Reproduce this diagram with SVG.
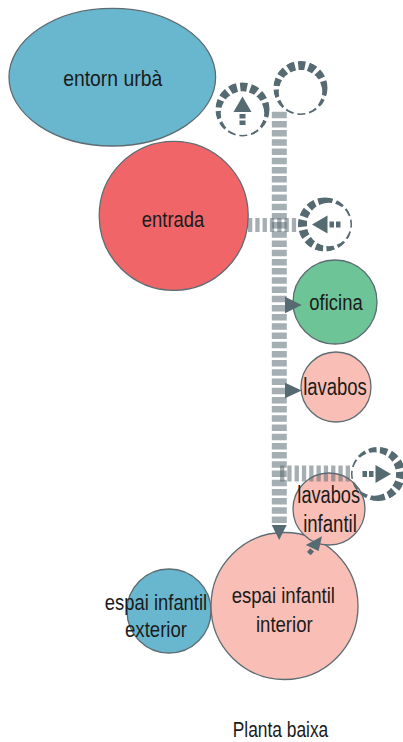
<svg xmlns="http://www.w3.org/2000/svg" width="403" height="742" viewBox="0 0 403 742">
<style>
.node{stroke:#5d6c73;stroke-width:1.3}
.lbl{font-family:"Liberation Sans","DejaVu Sans",sans-serif;font-size:22px;fill:#1b1b1b;text-anchor:middle}
.conn{fill:none;stroke:#5b6b73;stroke-opacity:0.55}
.head{fill:#566a72}
.ring{fill:none;stroke:#566a72;stroke-width:9;stroke-dasharray:7 3.3}
</style>
<defs>
<mask id="ringMask" maskUnits="userSpaceOnUse" x="-32" y="-32" width="64" height="64">
<circle cx="0" cy="0" r="27.5" fill="#fff"/>
<circle cx="0" cy="3.75" r="21.75" fill="#000"/>
</mask>
<g id="portRing"><circle class="ring" cx="0" cy="0" r="22.5" mask="url(#ringMask)"/></g>
<g id="portArrow">
<polygon class="head" points="0,-13 -9,2.5 9,2.5"/>
<rect class="head" x="-3" y="4.5" width="6" height="4.5"/>
<rect class="head" x="-3" y="11" width="6" height="4.5"/>
</g>
</defs>

<g id="entorn-urba">
<ellipse class="node" cx="112.3" cy="77.2" rx="103.3" ry="68.8" fill="#68b7ce"/>
<text class="lbl" x="112.7" y="85.5" textLength="99" lengthAdjust="spacingAndGlyphs">entorn urbà</text>
</g>
<g id="entrada">
<circle class="node" cx="173.7" cy="215.8" r="74.5" fill="#f06568"/>
<text class="lbl" x="173" y="226.7" textLength="62.3" lengthAdjust="spacingAndGlyphs">entrada</text>
</g>
<g id="oficina">
<circle class="node" cx="335" cy="302" r="42" fill="#6dc496"/>
<text class="lbl" x="336" y="310" textLength="53.3" lengthAdjust="spacingAndGlyphs">oficina</text>
</g>
<g id="lavabos">
<circle class="node" cx="336" cy="387" r="35" fill="#f9bfb6"/>
<text class="lbl" x="335" y="395" textLength="63.7" lengthAdjust="spacingAndGlyphs" style="font-size:23px">lavabos</text>
</g>
<g id="espai-infantil-exterior">
<circle class="node" cx="169" cy="611" r="42" fill="#68b7ce"/>
</g>
<g id="espai-infantil-interior">
<circle class="node" cx="284.5" cy="606" r="73.5" fill="#f9bfb6"/>
<text class="lbl" x="283.3" y="603.3" textLength="103.3" lengthAdjust="spacingAndGlyphs">espai infantil</text>
<text class="lbl" x="284.3" y="631.7" textLength="56.7" lengthAdjust="spacingAndGlyphs">interior</text>
</g>
<g id="espai-infantil-exterior-label">
<text class="lbl" x="156" y="610" textLength="102.3" lengthAdjust="spacingAndGlyphs">espai infantil</text>
<text class="lbl" x="156" y="636.7" textLength="62" lengthAdjust="spacingAndGlyphs">exterior</text>
</g>
<g id="lavabos-infantil">
<circle class="node" cx="329" cy="509" r="36" fill="#f9bfb6"/>
<text class="lbl" x="328.7" y="503.3" textLength="62.7" lengthAdjust="spacingAndGlyphs" style="font-size:23px">lavabos</text>
<text class="lbl" x="330" y="531.7" textLength="53.7" lengthAdjust="spacingAndGlyphs" style="font-size:23px">infantil</text>
</g>

<g id="port-1" transform="translate(242.5,109.5)">
<use href="#portRing"/>
<use href="#portArrow"/>
</g>
<g id="port-2" transform="translate(300.5,88)">
<use href="#portRing"/>
</g>
<g id="port-3" transform="translate(325,224.5) rotate(-90)">
<use href="#portRing"/>
<use href="#portArrow"/>
</g>
<g id="port-4" transform="translate(378,474) rotate(90)">
<use href="#portRing"/>
<use href="#portArrow"/>
</g>

<g id="connectors">
<line class="conn" x1="279.3" y1="111.7" x2="279.3" y2="526" stroke-width="15" stroke-dasharray="6.5 2.7"/>
<line class="conn" x1="248" y1="225" x2="297" y2="225" stroke-width="14" stroke-dasharray="4.3 3"/>
<line class="conn" x1="280" y1="473.5" x2="350" y2="473.5" stroke-width="16" stroke-dasharray="4.3 3"/>
<polygon class="head" points="285,296.7 301.7,305 285,313.3"/>
<polygon class="head" points="285,382.7 301.7,390.5 285,398.3"/>
<polygon class="head" points="271.7,525 286.7,525 279.2,540"/>
<polygon class="head" points="322,536.3 305.8,545 318.6,551"/>
<rect class="head" x="308" y="549.3" width="5" height="5" transform="rotate(40 310.5 551.8)"/>
</g>

<text id="title" class="lbl" x="280.5" y="736.7" textLength="95.6" lengthAdjust="spacingAndGlyphs">Planta baixa</text>
</svg>
